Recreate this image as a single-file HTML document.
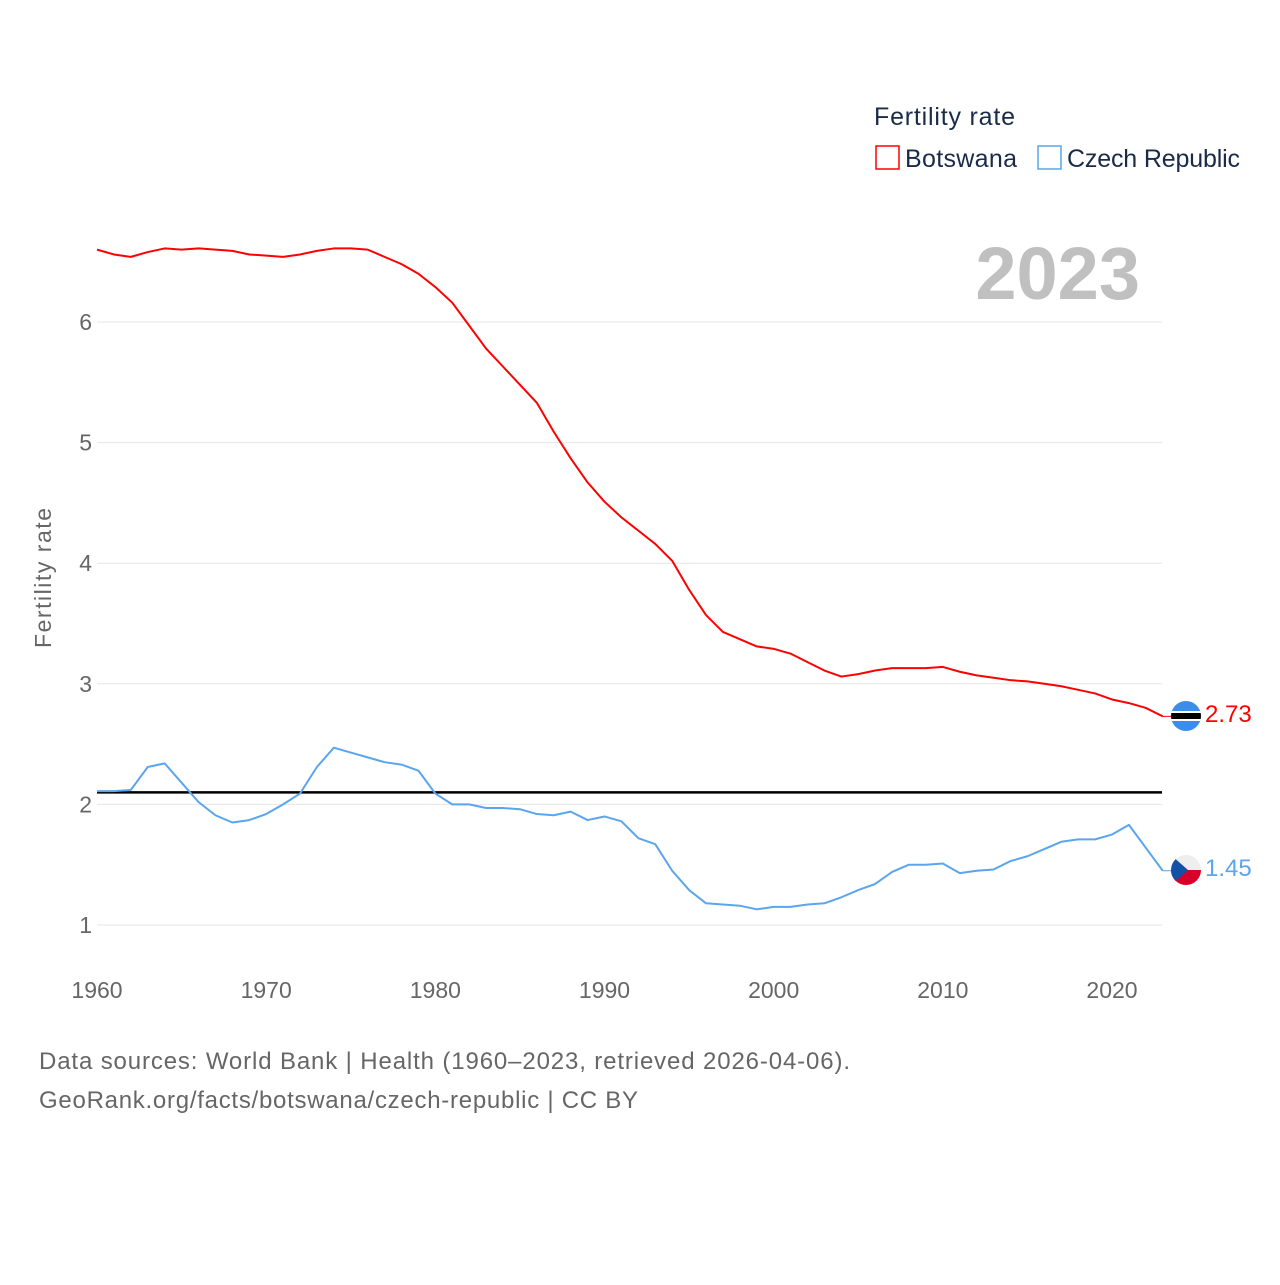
<!DOCTYPE html>
<html><head><meta charset="utf-8"><style>
body{margin:0;background:#fff;font-family:"Liberation Sans",sans-serif}
svg text{font-family:"Liberation Sans",sans-serif}
</style></head><body>
<svg width="1280" height="1280" viewBox="0 0 1280 1280">
<defs>
<clipPath id="c1"><circle cx="1186" cy="716" r="15"/></clipPath>
<clipPath id="c2"><circle cx="1186" cy="870" r="15"/></clipPath>
</defs>
<g id="grid"></g>
<g id="lines"></g>
<text x="874" y="125" font-size="25" fill="#1a2b49" textLength="141">Fertility rate</text>
<rect x="876" y="146" width="23" height="23" fill="none" stroke="#ff0000" stroke-width="1.5"/>
<text x="905" y="167" font-size="25" fill="#1a2b49" textLength="112">Botswana</text>
<rect x="1038" y="146" width="23" height="23" fill="none" stroke="#5aa5ee" stroke-width="1.5"/>
<text x="1067" y="167" font-size="25" fill="#1a2b49" textLength="173">Czech Republic</text>
<text x="1140" y="299" font-size="74" font-weight="bold" fill="#c0c0c0" text-anchor="end">2023</text>
<text transform="translate(51,578) rotate(-90)" font-size="23" fill="#666" text-anchor="middle" textLength="140">Fertility rate</text>
<g clip-path="url(#c1)">
<rect x="1171" y="701" width="30" height="30" fill="#3b8ded"/>
<rect x="1171" y="711" width="30" height="10" fill="#fff"/>
<rect x="1171" y="713" width="30" height="6" fill="#000"/>
</g>
<g clip-path="url(#c2)">
<rect x="1171" y="855" width="30" height="15" fill="#eee"/>
<rect x="1171" y="870" width="30" height="15" fill="#d7002b"/>
<polygon points="1171,855 1188,870 1171,885" fill="#1251a6"/>
</g>
<text x="1205" y="722" font-size="24" fill="#ff0000">2.73</text>
<text x="1205" y="876" font-size="24" fill="#5aa5ee">1.45</text>
<text x="39" y="1069" font-size="24" fill="#666" textLength="811">Data sources: World Bank | Health (1960–2023, retrieved 2026-04-06).</text>
<text x="39" y="1108" font-size="24" fill="#666" textLength="599">GeoRank.org/facts/botswana/czech-republic | CC BY</text>
</svg>
<script>
const years=[];for(let y=1960;y<=2023;y++)years.push(y);
const botswana=[6.60,6.56,6.54,6.58,6.61,6.60,6.61,6.60,6.59,6.56,6.55,6.54,6.56,6.59,6.61,6.61,6.60,6.54,6.48,6.40,6.29,6.16,5.97,5.78,5.63,5.48,5.33,5.09,4.87,4.67,4.51,4.38,4.27,4.16,4.02,3.78,3.57,3.43,3.37,3.31,3.29,3.25,3.18,3.11,3.06,3.08,3.11,3.13,3.13,3.13,3.14,3.10,3.07,3.05,3.03,3.02,3.00,2.98,2.95,2.92,2.87,2.84,2.80,2.73];
const czech=[2.11,2.11,2.12,2.31,2.34,2.18,2.02,1.91,1.85,1.87,1.92,2.00,2.09,2.31,2.47,2.43,2.39,2.35,2.33,2.28,2.09,2.00,2.00,1.97,1.97,1.96,1.92,1.91,1.94,1.87,1.90,1.86,1.72,1.67,1.45,1.29,1.18,1.17,1.16,1.13,1.15,1.15,1.17,1.18,1.23,1.29,1.34,1.44,1.50,1.50,1.51,1.43,1.45,1.46,1.53,1.57,1.63,1.69,1.71,1.71,1.75,1.83,1.64,1.45];
const yTicks=[1,2,3,4,5,6];
const xTicks=[1960,1970,1980,1990,2000,2010,2020];
const replacement=2.1;
const NS='http://www.w3.org/2000/svg';
const X=y=>97+(y-1960)*(1112-97)/60;
const Y=v=>925-(v-1)*(925-322)/5;
const grid=document.getElementById('grid'),lines=document.getElementById('lines');
function mk(tag,attrs,parent){const e=document.createElementNS(NS,tag);for(const k in attrs)e.setAttribute(k,attrs[k]);parent.appendChild(e);return e;}
yTicks.forEach(t=>{
 const l=mk('line',{x1:97,x2:1162,y1:Y(t),y2:Y(t),stroke:'#e6e6e6','stroke-width':1},grid);
 
 
 const tx=mk('text',{x:92,y:Y(t)+8,'font-size':23,fill:'#666','text-anchor':'end'},grid);
 tx.textContent=t;
 
 
});
xTicks.forEach(t=>{
 const tx=mk('text',{x:X(t),y:998,'font-size':23,fill:'#666','text-anchor':'middle'},grid);
 tx.textContent=t;
 
 
});
const rl=mk('line',{x1:97,x2:1162,y1:Y(replacement),y2:Y(replacement),stroke:'#000','stroke-width':2.5},lines);


function series(data,color,name){
 const p=mk('polyline',{points:data.map((v,i)=>X(years[i])+','+Y(v)).join(' '),fill:'none',stroke:color,'stroke-width':2,'stroke-linejoin':'round'},lines);
 
 
 const last=data[data.length-1];
 mk('line',{x1:X(2023),x2:1172,y1:Y(last),y2:Y(last),stroke:color,'stroke-width':1},lines);
}
series(botswana,'#ff0000','botswana-line');
series(czech,'#5aa5ee','czech-line');
</script>
</body></html>
